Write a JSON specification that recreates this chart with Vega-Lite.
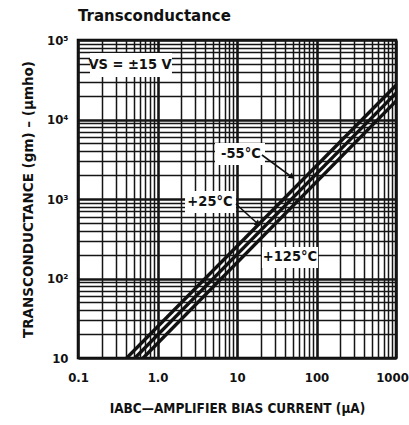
{
  "$schema": "https://vega.github.io/schema/vega-lite/v6.json",
  "width": 318,
  "height": 318,
  "autosize": {"type": "none"},
  "padding": {"left": 78, "top": 40, "right": 13, "bottom": 67},
  "background": "white",
  "config": {
    "view": {"stroke": "black", "strokeWidth": 2.5},
    "font": "DejaVu Sans Condensed, DejaVu Sans, sans-serif"
  },
  "title": {
    "text": "Transconductance",
    "anchor": "start",
    "frame": "group",
    "font": "DejaVu Sans",
    "fontSize": 15,
    "fontWeight": "bold",
    "color": "#111",
    "offset": 10,
    "dx": 0
  },
  "datasets": {
    "lines": [
      {"T": "-55°C", "I": 0.41, "gm": 10},
      {"T": "-55°C", "I": 1000, "gm": 27000},
      {"T": "+25°C", "I": 0.52, "gm": 10},
      {"T": "+25°C", "I": 1000, "gm": 21500},
      {"T": "+125°C", "I": 0.66, "gm": 10},
      {"T": "+125°C", "I": 1000, "gm": 17000}
    ],
    "boxes": [
      {"I": 0.1416, "I2": 1.52, "gm": 68640, "gm2": 34270},
      {"I": 5.29, "I2": 22.5, "gm": 5060, "gm2": 2680},
      {"I": 2.22, "I2": 9.71, "gm": 1262, "gm2": 667},
      {"I": 20.6, "I2": 104.5, "gm": 249, "gm2": 135.6}
    ],
    "labels": [
      {"label": "VS = ±15 V", "I": 0.451, "gm": 48480},
      {"label": "-55°C", "I": 11.2, "gm": 3680},
      {"label": "+25°C", "I": 4.57, "gm": 916},
      {"label": "+125°C", "I": 46.4, "gm": 186}
    ],
    "arrows": [
      {"I": 20.6, "gm": 3575, "I2": 49.2, "gm2": 1890},
      {"I": 9.71, "gm": 865, "I2": 18.4, "gm2": 485}
    ],
    "heads": [
      {"I": 49.2, "gm": 1890},
      {"I": 18.4, "gm": 485}
    ]
  },
  "encoding": {
    "x": {
      "field": "I",
      "type": "quantitative",
      "scale": {"type": "log", "domain": [0.1, 1000], "nice": false},
      "axis": {
        "title": "IABC—AMPLIFIER BIAS CURRENT (µA)",
        "titleFont": "DejaVu Sans Condensed, DejaVu Sans, sans-serif",
        "titleFontSize": 13.5,
        "titleFontWeight": "bold",
        "titleColor": "#111",
        "titlePadding": 17,
        "values": [0.1,0.2,0.3,0.4,0.5,0.6,0.7,0.8,0.9,1,2,3,4,5,6,7,8,9,10,20,30,40,50,60,70,80,90,100,200,300,400,500,600,700,800,900,1000],
        "labelExpr": "datum.value == 0.1 ? '0.1' : datum.value == 1 ? '1.0' : datum.value == 10 ? '10' : datum.value == 100 ? '100' : datum.value == 1000 ? '1000' : ''",
        "labelFontSize": 13,
        "labelFontWeight": "bold",
        "labelColor": "#111",
        "labelPadding": 13,
        "labelOffset": {"condition": {"test": "datum.value == 1000", "value": -4}, "value": 0},
        "labelOverlap": false,
        "labelFlush": false,
        "labelBound": false,
        "ticks": false,
        "domain": false,
        "grid": true,
        "gridColor": "#151515",
        "gridOpacity": 1,
        "gridWidth": {"condition": {"test": "abs(log(datum.value)/LN10 - round(log(datum.value)/LN10)) < 0.001", "value": 2.6}, "value": 1.5}
      }
    },
    "y": {
      "field": "gm",
      "type": "quantitative",
      "scale": {"type": "log", "domain": [10, 100000], "nice": false},
      "axis": {
        "title": "TRANSCONDUCTANCE (gm) – (µmho)",
        "titleFont": "DejaVu Sans",
        "titleFontSize": 13.5,
        "titleFontWeight": "bold",
        "titleColor": "#111",
        "titlePadding": 11,
        "values": [10,20,30,40,50,60,70,80,90,100,200,300,400,500,600,700,800,900,1000,2000,3000,4000,5000,6000,7000,8000,9000,10000,20000,30000,40000,50000,60000,70000,80000,90000,100000],
        "labelExpr": "datum.value == 100000 ? '10⁵' : datum.value == 10000 ? '10⁴' : datum.value == 1000 ? '10³' : datum.value == 100 ? '10²' : datum.value == 10 ? '10' : ''",
        "labelFontSize": 13,
        "labelFontWeight": "bold",
        "labelColor": "#111",
        "labelPadding": 10,
        "labelOverlap": false,
        "labelFlush": false,
        "labelBound": false,
        "ticks": false,
        "domain": false,
        "grid": true,
        "gridColor": "#151515",
        "gridOpacity": 1,
        "gridWidth": {"condition": {"test": "abs(log(datum.value)/LN10 - round(log(datum.value)/LN10)) < 0.001", "value": 2.6}, "value": 1.5}
      }
    }
  },
  "layer": [
    {
      "data": {"name": "lines"},
      "mark": {"type": "line", "color": "#111", "strokeWidth": 3.4, "clip": true},
      "encoding": {"detail": {"field": "T"}}
    },
    {
      "data": {"name": "boxes"},
      "mark": {"type": "rect", "color": "white"},
      "encoding": {
        "x2": {"field": "I2"},
        "y2": {"field": "gm2"}
      }
    },
    {
      "data": {"name": "labels"},
      "mark": {"type": "text", "fontSize": 14.5, "fontWeight": "bold", "color": "#111", "align": "center", "baseline": "middle"},
      "encoding": {"text": {"field": "label"}}
    },
    {
      "data": {"name": "arrows"},
      "mark": {"type": "rule", "color": "#111", "strokeWidth": 1.6},
      "encoding": {
        "x2": {"field": "I2"},
        "y2": {"field": "gm2"}
      }
    },
    {
      "data": {"name": "heads"},
      "mark": {"type": "point", "shape": "triangle-up", "filled": true, "color": "#111", "opacity": 1, "size": 45, "angle": 129},
      "encoding": {}
    }
  ]
}
